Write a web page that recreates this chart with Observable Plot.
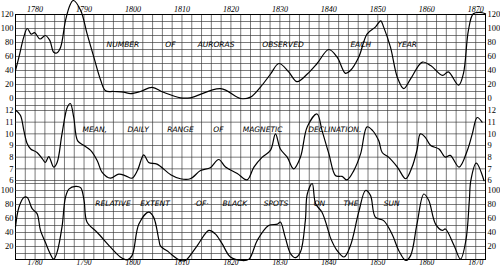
<!DOCTYPE html>
<html><head><meta charset="utf-8">
<script src="https://cdn.jsdelivr.net/npm/d3@7"></script>
<script src="https://cdn.jsdelivr.net/npm/@observablehq/plot@0.6"></script>
<style>
body{margin:0;background:#fff;}
#chart{position:relative;width:500px;height:269px;overflow:hidden;background:#fff;}
#chart svg{position:absolute;left:0;top:0;}
</style></head><body><div id="chart"></div>
<script>
// ---- data ----
const decadeTicks = [1780,1790,1800,1810,1820,1830,1840,1850,1860,1870];

const auroraYears = [1776.0,1776.7,1777.7,1778.4,1779.2,1779.9,1781.0,1782.1,1783.0,1783.8,1784.4,1785.2,1786.2,1787.1,1787.8,1789.3,1790.6,1792.0,1793.4,1794.4,1796.0,1798.1,1799.5,1801.5,1803.9,1806.2,1809.7,1811.7,1817.9,1822.0,1824.0,1826.0,1828.1,1829.8,1831.8,1833.5,1835.6,1837.6,1840.0,1841.7,1843.4,1844.4,1846.1,1847.8,1849.5,1850.6,1851.2,1852.6,1854.0,1855.3,1856.7,1859.1,1860.8,1863.2,1864.4,1866.5,1867.5,1868.5,1869.5,1870.9,1872.0];
const auroraValues = [40,59,88,100,92,94,85,90,83,66,65,73,111,133,140,126,93,59,26,11,10,9,7,10,16,9,1,1,14,0,2,16,35,50,38,24,35,50,70,59,36,40,59,92,102,111,102,73,30,14,28,52,47,33,38,19,36,97,121,123,121];
const auroraTicks = [0,20,40,60,80,100,120];

const magYears = [1776.0,1777.0,1777.7,1778.4,1779.1,1780.4,1781.5,1782.1,1782.8,1783.8,1784.5,1785.5,1786.6,1787.2,1787.9,1788.7,1790.0,1791.3,1792.7,1793.7,1795.4,1797.1,1798.5,1799.8,1800.9,1802.2,1803.2,1804.9,1807.7,1809.7,1811.7,1813.8,1815.8,1817.5,1818.9,1821.3,1823.3,1824.7,1826.4,1828.1,1829.1,1830.1,1831.5,1832.8,1834.2,1835.6,1837.6,1838.6,1840.0,1841.4,1842.7,1843.7,1845.1,1846.5,1847.8,1848.9,1850.2,1850.9,1852.2,1854.0,1855.7,1857.0,1858.0,1858.7,1859.7,1860.8,1862.5,1863.8,1864.8,1866.6,1868.3,1869.3,1870.3,1871.3];
const magValues = [12.05,11.6,10.3,9.15,8.7,8.4,7.85,7.55,8.05,7.15,7.55,10.0,12.3,12.6,11.4,9.4,9.0,8.6,7.7,6.7,6.2,6.55,6.4,6.2,6.85,8.2,7.55,7.4,6.5,6.15,6.15,6.85,7.1,7.8,7.15,6.6,6.05,7.15,8.0,8.6,10.0,8.7,8.0,7.0,8.0,10.6,11.7,10.3,8.3,6.4,6.35,6.05,6.85,8.3,10.6,10.3,9.4,8.4,8.0,7.15,6.15,7.15,8.6,10.0,9.7,9.0,8.7,8.0,8.15,7.15,8.6,10.0,11.4,11.0];
const magTicks = [6,7,8,9,10,11,12];

const spotYears = [1776.0,1776.7,1777.7,1778.4,1779.4,1780.4,1781.1,1782.1,1783.1,1783.8,1784.5,1785.5,1786.2,1786.9,1788.3,1789.3,1790.0,1790.6,1792.7,1795.4,1797.4,1798.8,1799.8,1801.2,1803.2,1804.2,1805.3,1805.6,1807.3,1807.7,1809.7,1810.7,1813.1,1815.5,1816.8,1818.2,1819.9,1822.3,1823.7,1825.4,1827.7,1829.5,1830.1,1831.1,1832.2,1833.2,1834.2,1835.2,1835.6,1836.6,1837.3,1838.6,1840.0,1840.3,1841.7,1843.1,1844.4,1846.1,1847.5,1848.5,1849.5,1851.2,1852.9,1854.3,1855.7,1856.7,1858.0,1859.4,1860.4,1861.8,1863.2,1863.8,1865.6,1866.9,1868.0,1868.7,1869.0,1870.1,1871.7];
const spotValues = [48,76,90,90,74,67,43,26,9.5,2,12,48,90,102,106,104,86,55,40,19,5,1,7,52,69,62,29,21,12,9.5,0,0,21,43,38,24,5,0,2,29,50,52,55,33,9.5,4,12,57,95,110,81,69,40,33,14,5,21,69,100,93,62,57,38,14,0,7,52,95,86,52,43,45,21,2,29,86,114,139,114];
const spotTicks = [20,40,60,80,100];

const auroraWords = ["NUMBER","OF","AURORAS","OBSERVED","EACH","YEAR"];
const auroraWordYears = [1794.6,1806.6,1813.2,1826.4,1844.4,1854.0];
const magWords = ["MEAN,","DAILY","RANGE","OF","MAGNETIC","DECLINATION."];
const magWordYears = [1789.7,1798.9,1807.0,1816.4,1822.4,1835.8];
const spotWords = ["RELATIVE","EXTENT","·OF·","BLACK","SPOTS","ON","THE","SUN"];
const spotWordYears = [1792.3,1801.5,1812.4,1818.3,1826.7,1836.9,1843.0,1851.2];

// ---- drawing ----
const gridYears = d3.range(1776, 1873, 2);
const serif = "'Liberation Serif', 'DejaVu Serif', serif";
const common = {
  width: 500, height: 269,
  marginLeft: 15, marginRight: 15, marginTop: 14, marginBottom: 10,
  x: {domain: [1776, 1872], axis: null},
  style: {background: "transparent", fontFamily: serif, fontSize: "8.5px", overflow: "visible"}
};
const gridStroke = {stroke: "#333", strokeWidth: 0.65};
const lineStyle = {stroke: "#000", strokeWidth: 1.2, curve: "catmull-rom"};
const wordStyle = {fontFamily: "'DejaVu Sans', sans-serif", fontStyle: "italic", fontSize: 7.5, textAnchor: "start", fill: "#000", ariaLabel: "words"};
const axisStyle = {tickSize: 0, tickPadding: 2, label: null, fontSize: 8.5};

function wordsMark(words, years, yv) {
  return Plot.text(words, {x: (d, i) => years[i], y: () => yv, text: d => d, ...wordStyle});
}

const p1 = Plot.plot({
  ...common,
  y: {domain: [0, 120], range: [98, 14]},
  marks: [
    Plot.ruleX(gridYears, gridStroke),
    Plot.ruleY(d3.range(-10, 121, 10), gridStroke),
    Plot.frame({stroke: "#000", strokeWidth: 1}),
    Plot.axisY(auroraTicks, {anchor: "left", ...axisStyle}),
    Plot.axisY(auroraTicks, {anchor: "right", ...axisStyle}),
    Plot.text(decadeTicks, {x: d => d, text: d => String(d), frameAnchor: "top", dy: -8, fontSize: 8, fontStyle: "italic"}),
    Plot.text(decadeTicks, {x: d => d, text: d => String(d), frameAnchor: "bottom", dy: 5, fontSize: 7.5, fontStyle: "italic"}),
    Plot.line(auroraYears.map((y, i) => [y, auroraValues[i]]), {x: d => d[0], y: d => d[1], ...lineStyle}),
    wordsMark(auroraWords, auroraWordYears, 77)
  ]
});

const p2 = Plot.plot({
  ...common,
  y: {domain: [6, 12], range: [180, 110]},
  marks: [
    Plot.ruleY(d3.range(6, 13, 1), gridStroke),
    Plot.axisY(magTicks, {anchor: "left", ...axisStyle}),
    Plot.axisY(magTicks, {anchor: "right", ...axisStyle}),
    Plot.line(magYears.map((y, i) => [y, magValues[i]]), {x: d => d[0], y: d => d[1], ...lineStyle}),
    wordsMark(magWords, magWordYears, 10.35)
  ]
});

const p3 = Plot.plot({
  ...common,
  y: {domain: [0, 100], range: [260, 190]},
  marks: [
    Plot.ruleY(d3.range(10, 111, 10), gridStroke),
    Plot.axisY(spotTicks, {anchor: "left", ...axisStyle}),
    Plot.axisY(spotTicks, {anchor: "right", ...axisStyle}),
    Plot.line(spotYears.map((y, i) => [y, spotValues[i]]), {x: d => d[0], y: d => d[1], ...lineStyle}),
    wordsMark(spotWords, spotWordYears, 81)
  ]
});

const chart = document.getElementById("chart");
for (const p of [p1, p2, p3]) {
  d3.select(p).selectAll("g[aria-label=words] text").style("letter-spacing", "1.3px");
  chart.appendChild(p);
}
</script></body></html>
